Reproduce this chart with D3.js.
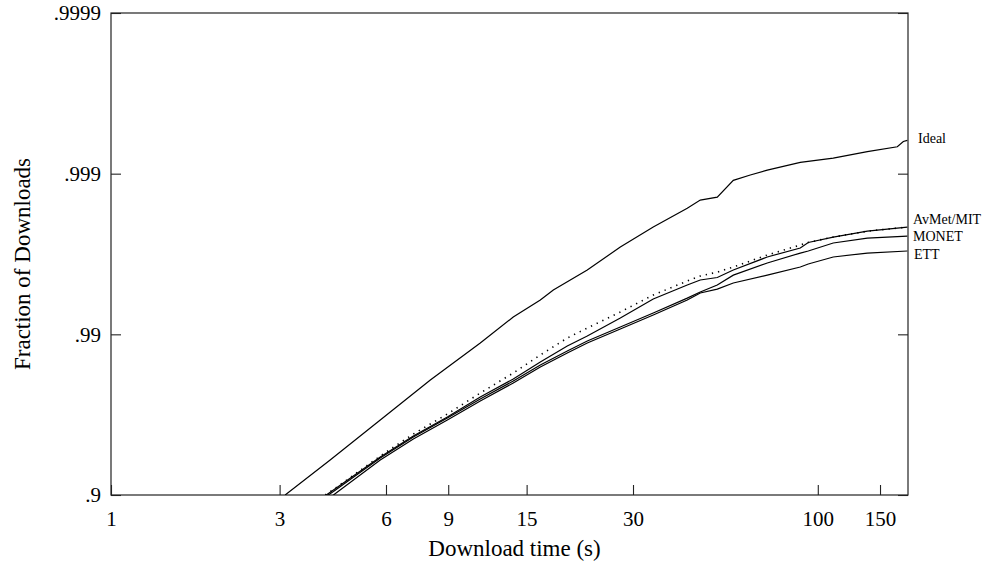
<!DOCTYPE html>
<html>
<head>
<meta charset="utf-8">
<script src="https://cdn.jsdelivr.net/npm/d3@7"></script>
<style>
body { margin: 0; background: #fff; }
text { font-family: "Liberation Serif", "Times New Roman", serif; fill: #000; }
</style>
</head>
<body>
<div id="chart"></div>
<script>
// tick values
var xTicks = [1, 3, 6, 9, 15, 30, 100, 150];
var yTicks = [0.9, 0.99, 0.999, 0.9999];
var yTickLabels = [".9", ".99", ".999", ".9999"];

// Ideal curve (download time in s, fraction of downloads)
var idealTime = [3.11, 4.17, 5.78, 8.01, 11.09, 13.75, 16.40, 17.85, 22.27, 27.62, 34.23, 42.72, 46.50, 51.95, 57.67, 64.42, 71.96, 89.22, 110.6, 138.1, 167.9, 174.6, 179.2];
var idealFrac = [0.9, 0.93944, 0.96586, 0.98075, 0.98867, 0.99220, 0.99388, 0.99470, 0.99602, 0.99714, 0.99785, 0.99836, 0.99854, 0.99860, 0.99890, 0.99898, 0.99905, 0.99915, 0.99920, 0.99927, 0.99932, 0.99937, 0.99938];

// the other four share one time grid
var bundleTime = [4.04, 4.26, 5.78, 7.17, 8.95, 11.09, 13.75, 16.40, 19.55, 22.27, 27.62, 34.23, 42.72, 46.50, 51.95, 57.67, 71.96, 89.22, 93.99, 110.6, 138.1, 179.2];
var avmetFrac = [0.9000, 0.90757, 0.94281, 0.95827, 0.96867, 0.97681, 0.98259, 0.98655, 0.98946, 0.99086, 0.99274, 0.99431, 0.99534, 0.99566, 0.99590, 0.99619, 0.99679, 0.99722, 0.99732, 0.99752, 0.99772, 0.99785];
var mitFrac = [0.8990, 0.90692, 0.94198, 0.95706, 0.96730, 0.97544, 0.98103, 0.98513, 0.98817, 0.98975, 0.99208, 0.99397, 0.99507, 0.99541, 0.99557, 0.99602, 0.99670, 0.99710, 0.99732, 0.99752, 0.99772, 0.99785];
var monetFrac = [0.8971, 0.90490, 0.94115, 0.95644, 0.96682, 0.97473, 0.98048, 0.98447, 0.98730, 0.98899, 0.99099, 0.99263, 0.99405, 0.99455, 0.99507, 0.99572, 0.99640, 0.99688, 0.99697, 0.99730, 0.99748, 0.99755];
var ettFrac = [0.8910, 0.90000, 0.93944, 0.95518, 0.96586, 0.97399, 0.97991, 0.98402, 0.98693, 0.98867, 0.99073, 0.99242, 0.99388, 0.99447, 0.99477, 0.99521, 0.99572, 0.99619, 0.99635, 0.99670, 0.99688, 0.99697];

var labelNames = ["Ideal", "AvMet/MIT", "MONET", "ETT"];

var margin = { top: 13, right: 76, bottom: 66, left: 111 };
var width = 984 - margin.left - margin.right,
    height = 561 - margin.top - margin.bottom;

var svg = d3.select("#chart").append("svg")
    .attr("width", 984)
    .attr("height", 561)
    .append("g")
    .attr("transform", "translate(" + margin.left + "," + margin.top + ")");

// scales: x is log time, y is log of the fraction not yet done
var x = d3.scaleLog().domain([1, 180]).range([0, width]);
var y = d3.scaleLog().domain([0.1, 0.0001]).range([height, 0]);
var yv = function(p) { return y(1 - p); };

svg.append("clipPath").attr("id", "clip")
    .append("rect").attr("width", width).attr("height", height);

// axes, ticks pointing inward
var xAxis = d3.axisBottom(x).tickValues(xTicks).tickFormat(d3.format("d"))
    .tickSize(-10).tickSizeOuter(0).tickPadding(16);
var yAxis = d3.axisLeft(y).tickValues(yTicks.map(function(d) { return 1 - d; }))
    .tickFormat(function(d, i) { return yTickLabels[i]; })
    .tickSize(-10).tickSizeOuter(0).tickPadding(10);
var yAxisRight = d3.axisRight(y).tickValues(yTicks.map(function(d) { return 1 - d; }))
    .tickFormat("").tickSize(-10).tickSizeOuter(0);

var gx = svg.append("g").attr("transform", "translate(0," + height + ")").call(xAxis);
var gy = svg.append("g").call(yAxis);
var gyr = svg.append("g").attr("transform", "translate(" + width + ",0)").call(yAxisRight);

[gx, gy, gyr].forEach(function(g) {
    g.select(".domain").remove();
    g.selectAll("line").attr("stroke", "#222").attr("stroke-width", 1.1);
    g.selectAll("text").attr("font-size", 21).attr("font-family", "Liberation Serif").attr("fill", "#000");
});

svg.append("rect")
    .attr("width", width).attr("height", height)
    .attr("fill", "none").attr("stroke", "#222").attr("stroke-width", 1.2);

// lines
var line = d3.line()
    .x(function(d) { return x(d[0]); })
    .y(function(d) { return yv(d[1]); });

var series = [
    { time: idealTime, frac: idealFrac, dash: null },
    { time: bundleTime, frac: ettFrac, dash: null },
    { time: bundleTime, frac: monetFrac, dash: null },
    { time: bundleTime, frac: mitFrac, dash: null },
    { time: bundleTime, frac: avmetFrac, dash: "1.3,5" }
];

svg.append("g").attr("clip-path", "url(#clip)")
    .selectAll("path").data(series).enter().append("path")
    .attr("d", function(s) { return line(d3.zip(s.time, s.frac)); })
    .attr("fill", "none")
    .attr("stroke", "#000")
    .attr("stroke-width", function(s) { return s.dash ? 1.6 : 1.2; })
    .attr("stroke-dasharray", function(s) { return s.dash; });

// end labels
var labelEnds = [idealFrac[idealFrac.length - 1], mitFrac[mitFrac.length - 1],
                 monetFrac[monetFrac.length - 1], ettFrac[ettFrac.length - 1]];
var labelDx = [10, 5, 5, 6];
var labelDy = [3, -3, 5, 8];

svg.selectAll(".end-label").data(labelNames).enter().append("text")
    .attr("class", "end-label")
    .attr("x", function(d, i) { return width + labelDx[i]; })
    .attr("y", function(d, i) { return yv(labelEnds[i]) + labelDy[i]; })
    .attr("font-size", 14)
    .text(function(d) { return d; });

// axis titles
svg.append("text")
    .attr("x", width / 2 + 5).attr("y", height + 61)
    .attr("text-anchor", "middle").attr("font-size", 23)
    .text("Download time (s)");

svg.append("text")
    .attr("transform", "translate(" + (-81) + "," + (height / 2 + 10) + ") rotate(-90)")
    .attr("text-anchor", "middle").attr("font-size", 23)
    .text("Fraction of Downloads");
</script>
</body>
</html>
